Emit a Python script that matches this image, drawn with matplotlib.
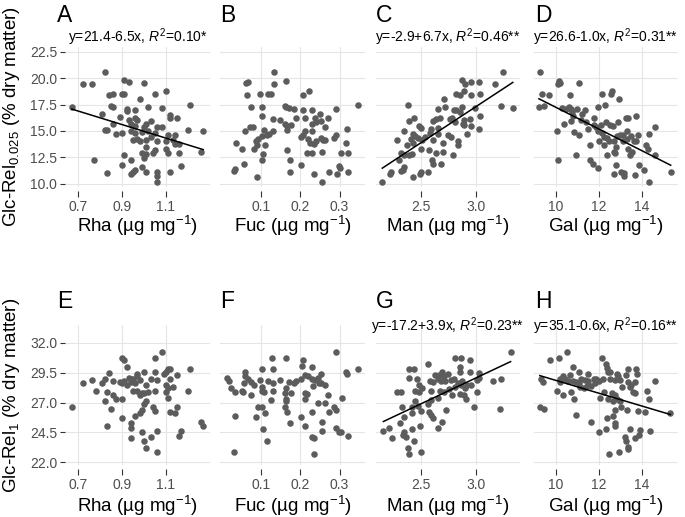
import numpy as np
import matplotlib
matplotlib.use("Agg")
import matplotlib.pyplot as plt

plt.rcParams['font.family'] = 'Liberation Sans'
plt.rcParams['mathtext.fontset'] = 'custom'
plt.rcParams['mathtext.rm'] = 'Liberation Sans'
plt.rcParams['mathtext.it'] = 'Liberation Sans:italic'

# Data (top row: Glc-Rel 0.025, bottom row: Glc-Rel 1)
rha_a = [0.82, 0.72, 0.76, 0.91, 0.93, 1.00, 1.10, 0.84, 0.86, 0.90, 0.91, 1.05, 0.98, 0.85, 0.86, 1.21, 0.67, 1.02,
         1.08, 0.92, 0.92, 0.96, 0.81, 0.89, 1.12, 1.12, 1.15, 0.93, 0.96, 0.97, 1.03, 1.01, 0.86, 0.94, 0.96, 1.00,
         1.06, 1.08, 0.82, 0.83, 0.87, 0.90, 0.94, 0.96, 0.99, 1.02, 1.05, 1.11, 1.14, 1.20, 1.27, 0.95, 0.97, 0.98,
         1.01, 1.03, 1.06, 1.10, 1.13, 1.14, 1.16, 1.10, 1.05, 1.04, 0.99, 1.01, 1.11, 1.16, 1.26, 0.91, 0.77, 0.94,
         0.90, 0.99, 0.96, 0.95, 0.94, 0.83, 1.01, 1.06, 1.06, 1.06, 1.12, 1.17, 1.00, 1.01]
glc025_a = [20.6, 19.4, 19.4, 19.8, 19.6, 19.5, 18.8, 18.4, 18.5, 18.5, 18.5, 18.5, 18.0, 17.4, 17.3, 17.5, 17.3, 17.3,
            17.2, 17.1, 16.9, 17.0, 16.6, 16.3, 16.5, 16.2, 16.2, 16.0, 16.2, 16.0, 15.9, 15.7, 15.7, 15.7, 15.5, 15.4,
            15.4, 15.4, 15.1, 15.1, 14.7, 14.8, 15.0, 14.8, 14.9, 15.0, 14.8, 14.6, 14.6, 15.1, 15.0, 14.1, 14.2, 14.0,
            14.1, 14.4, 14.0, 14.0, 14.1, 13.8, 13.8, 13.3, 13.2, 12.9, 12.9, 12.8, 12.9, 12.9, 13.0, 12.7, 12.2, 12.2,
            11.8, 11.6, 11.3, 11.1, 10.9, 11.0, 11.1, 11.1, 10.7, 10.2, 11.1, 11.7, 12.4, 13.5]

fuc_b = [0.133, 0.061, 0.066, 0.163, 0.132, 0.063, 0.096, 0.118, 0.126, 0.208, 0.223, 0.074, 0.103, 0.160, 0.163,
         0.171, 0.183, 0.206, 0.231, 0.290, 0.347, 0.101, 0.189, 0.211, 0.237, 0.249, 0.271, 0.129, 0.149, 0.160,
         0.167, 0.177, 0.229, 0.240, 0.252, 0.263, 0.071, 0.079, 0.059, 0.108, 0.131, 0.166, 0.212, 0.230, 0.318,
         0.120, 0.114, 0.101, 0.093, 0.088, 0.206, 0.202, 0.220, 0.224, 0.234, 0.241, 0.252, 0.258, 0.264, 0.285,
         0.291, 0.317, 0.035, 0.111, 0.090, 0.051, 0.082, 0.165, 0.216, 0.231, 0.255, 0.305, 0.321, 0.105, 0.102,
         0.174, 0.055, 0.201, 0.034, 0.030, 0.090, 0.174, 0.234, 0.272, 0.294, 0.299, 0.302, 0.321, 0.256]
glc025_b = [20.6, 19.5, 19.6, 19.7, 19.4, 18.4, 18.5, 18.5, 18.5, 18.4, 18.8, 17.3, 17.3, 17.4, 17.3, 17.2, 17.1, 17.0,
            17.0, 17.1, 17.5, 16.4, 16.2, 16.2, 16.2, 16.6, 16.2, 16.1, 16.0, 15.7, 15.5, 15.6, 15.7, 15.8, 15.9, 15.4,
            15.4, 15.4, 15.0, 15.1, 15.0, 15.1, 15.0, 15.0, 15.2, 14.7, 14.6, 14.5, 14.2, 14.0, 14.6, 14.4, 14.2, 13.9,
            13.8, 14.0, 14.3, 14.1, 14.1, 14.3, 14.6, 13.9, 13.9, 13.7, 13.7, 13.3, 13.3, 13.2, 12.9, 12.9, 13.0, 12.9,
            12.9, 12.8, 12.2, 12.2, 11.9, 11.8, 11.4, 11.2, 10.6, 11.1, 10.9, 11.1, 10.9, 11.7, 11.5, 11.1, 10.2]

man_c = [3.24, 2.87, 2.90, 2.95, 3.02, 3.17, 2.82, 2.85, 2.89, 2.95, 3.03, 2.71, 2.38, 2.65, 2.72, 2.80, 2.82, 2.87,
         2.85, 3.22, 3.33, 2.99, 3.03, 2.44, 2.39, 2.61, 2.64, 2.67, 2.78, 2.76, 2.89, 2.94, 2.81, 2.88, 2.89, 2.95,
         2.48, 2.50, 2.35, 2.59, 2.65, 2.58, 2.43, 2.45, 2.47, 2.41, 2.28, 2.37, 2.43, 2.51, 2.54, 2.61, 2.65, 2.74,
         2.77, 2.92, 3.02, 2.83, 2.83, 2.70, 2.57, 2.64, 2.70, 2.79, 2.50, 2.32, 2.35, 2.39, 2.42, 2.30, 2.60, 2.61,
         2.68, 2.35, 2.34, 2.32, 2.23, 2.22, 2.50, 2.56, 2.43, 2.15, 2.49]
glc025_c = [20.6, 19.8, 19.4, 19.6, 19.6, 19.4, 18.5, 18.4, 18.8, 18.4, 18.5, 18.0, 17.5, 17.1, 17.3, 17.0, 17.0, 17.3,
            16.8, 17.4, 17.2, 17.2, 16.4, 16.2, 15.9, 15.9, 16.1, 16.2, 16.2, 16.1, 16.0, 16.1, 15.8, 15.7, 15.6, 15.5,
            15.5, 15.3, 15.0, 15.2, 15.3, 14.8, 14.7, 14.5, 14.3, 14.2, 14.1, 13.7, 13.9, 14.1, 14.4, 14.1, 14.7, 14.6,
            14.4, 14.7, 15.2, 14.0, 13.7, 13.9, 13.2, 12.9, 13.0, 12.7, 13.3, 12.9, 12.7, 12.7, 12.8, 12.2, 12.2, 11.9,
            11.9, 11.6, 11.3, 11.2, 11.1, 10.9, 11.1, 11.1, 10.6, 10.2, 10.9]

gal_d = [9.27, 10.14, 10.22, 10.11, 11.09, 9.36, 9.71, 10.65, 12.16, 12.60, 12.59, 12.93, 9.22, 9.46, 10.28, 10.50,
         10.62, 10.70, 10.98, 11.38, 11.97, 12.31, 10.74, 10.81, 11.24, 11.77, 12.65, 12.51, 12.90, 13.26, 13.38,
         13.74, 14.60, 10.39, 10.71, 11.16, 11.41, 11.80, 11.89, 10.05, 10.84, 11.07, 11.52, 11.97, 12.17, 12.26,
         12.37, 12.50, 12.71, 12.85, 12.99, 13.15, 13.33, 13.49, 13.33, 13.64, 13.83, 14.34, 11.60, 12.03, 12.25,
         12.81, 13.15, 13.36, 13.55, 13.75, 14.20, 14.28, 10.93, 10.11, 11.61, 11.75, 11.98, 12.37, 12.71, 12.78,
         13.44, 12.82, 13.88, 14.09, 12.70, 13.05, 13.17, 13.20, 13.67, 14.36, 15.35, 14.60, 12.34, 12.12]
glc025_d = [20.6, 19.7, 19.5, 19.4, 19.5, 18.5, 18.4, 18.4, 18.5, 18.8, 18.5, 18.0, 17.3, 17.4, 17.2, 17.1, 17.3, 17.1,
            17.1, 17.0, 17.3, 17.5, 16.8, 16.4, 16.6, 16.2, 15.5, 15.6, 15.8, 16.2, 16.2, 16.4, 15.4, 15.7, 15.9, 16.0,
            15.8, 15.6, 15.4, 15.0, 14.9, 14.6, 15.2, 15.0, 14.8, 14.4, 14.3, 14.0, 14.0, 14.5, 14.6, 14.6, 15.0, 14.5,
            14.2, 14.0, 14.6, 14.7, 13.7, 14.0, 13.7, 13.5, 14.0, 13.3, 13.0, 14.0, 13.7, 13.3, 12.7, 12.2, 12.2, 11.9,
            11.5, 12.7, 13.0, 12.9, 12.7, 11.8, 11.8, 11.3, 10.9, 11.1, 11.0, 10.7, 10.8, 10.2, 11.1, 12.7, 15.8, 15.6]

rha_e = [1.08, 0.90, 0.91, 1.05, 0.92, 0.84, 0.97, 1.00, 1.05, 1.10, 1.11, 1.12, 1.21, 1.15, 1.09, 0.72, 0.76, 0.82,
         0.81, 0.86, 0.89, 0.90, 0.91, 0.93, 0.94, 0.95, 0.97, 0.98, 0.92, 0.94, 0.96, 1.01, 1.03, 1.06, 1.10, 1.12,
         1.13, 1.11, 0.78, 0.83, 0.86, 0.87, 0.90, 0.95, 0.97, 0.99, 1.00, 1.02, 1.05, 1.10, 1.11, 1.20, 0.82, 0.85,
         0.98, 1.00, 1.01, 0.99, 0.98, 0.96, 1.04, 1.05, 1.12, 1.14, 1.15, 0.90, 0.67, 0.83, 0.94, 0.94, 0.99, 1.00,
         1.03, 1.06, 0.94, 1.01, 1.06, 1.17, 1.16, 1.26, 1.27]
glc1_e = [31.2, 30.7, 30.6, 30.7, 30.0, 29.5, 29.4, 29.6, 29.6, 29.6, 29.8, 29.8, 29.8, 29.3, 29.4, 28.6, 28.9, 29.0,
          28.6, 28.8, 28.7, 28.6, 28.8, 29.1, 29.0, 29.0, 29.2, 28.9, 28.5, 28.7, 28.6, 28.5, 29.0, 28.9, 28.5, 29.0,
          28.3, 28.2, 28.0, 27.9, 27.6, 27.3, 27.3, 28.0, 28.0, 27.8, 27.8, 27.9, 28.0, 27.9, 27.4, 28.0, 27.1, 26.5,
          27.6, 26.9, 27.1, 26.4, 26.1, 25.9, 26.6, 26.3, 26.2, 26.1, 26.6, 25.7, 26.6, 25.0, 25.3, 24.9, 24.5, 23.8,
          24.1, 24.6, 24.0, 23.2, 22.9, 24.6, 24.2, 25.4, 25.0]

fuc_f = [0.290, 0.127, 0.163, 0.207, 0.203, 0.229, 0.101, 0.129, 0.346, 0.317, 0.318, 0.060, 0.012, 0.017, 0.058,
         0.067, 0.075, 0.057, 0.082, 0.096, 0.103, 0.118, 0.131, 0.149, 0.171, 0.184, 0.189, 0.201, 0.211, 0.220,
         0.231, 0.237, 0.246, 0.253, 0.252, 0.023, 0.034, 0.050, 0.053, 0.074, 0.101, 0.108, 0.131, 0.164, 0.160,
         0.175, 0.163, 0.163, 0.213, 0.217, 0.212, 0.233, 0.247, 0.263, 0.271, 0.306, 0.125, 0.091, 0.103, 0.111,
         0.087, 0.034, 0.160, 0.165, 0.174, 0.201, 0.231, 0.246, 0.263, 0.273, 0.285, 0.290, 0.211, 0.255, 0.255,
         0.230, 0.234, 0.292, 0.298, 0.303, 0.322, 0.104, 0.114, 0.031, 0.234]
glc1_f = [31.2, 30.7, 30.7, 30.6, 30.1, 30.0, 29.8, 29.8, 29.8, 29.6, 29.4, 29.6, 29.1, 28.8, 29.2, 29.0, 28.7, 28.6,
          28.5, 28.9, 28.3, 28.8, 28.6, 28.9, 28.7, 28.6, 28.8, 29.0, 29.3, 29.2, 29.0, 28.9, 29.1, 29.4, 28.6, 28.2,
          27.9, 28.0, 27.9, 27.6, 28.0, 27.9, 28.0, 28.2, 27.8, 27.8, 27.3, 27.1, 27.8, 27.7, 27.3, 28.4, 28.6, 28.5,
          27.6, 27.4, 27.2, 26.6, 26.6, 26.1, 25.8, 25.9, 26.6, 26.2, 25.3, 25.8, 26.2, 27.0, 27.0, 26.2, 26.6, 26.4,
          25.0, 25.4, 24.6, 24.1, 24.0, 24.9, 24.5, 24.5, 24.2, 24.8, 23.8, 22.9, 22.7]

man_g = [3.31, 2.81, 2.86, 2.94, 2.56, 2.85, 2.39, 2.44, 2.69, 2.74, 2.85, 2.94, 3.02, 2.63, 2.66, 2.71, 2.39, 2.46,
         2.58, 2.61, 2.65, 2.68, 2.72, 2.77, 2.80, 2.83, 2.87, 2.92, 3.01, 3.02, 3.15, 3.22, 2.48, 2.51, 2.45, 2.28,
         2.32, 2.48, 2.59, 2.67, 2.71, 2.75, 2.81, 2.86, 2.90, 2.95, 3.01, 2.78, 2.85, 2.89, 2.91, 2.65, 2.59, 2.56,
         2.45, 2.42, 2.47, 2.33, 2.98, 3.21, 2.73, 2.57, 2.59, 2.61, 2.50, 2.35, 2.31, 2.42, 2.49, 2.69, 2.65, 2.16,
         2.21, 2.24, 2.35, 2.34, 2.36, 2.42, 2.44, 2.38, 2.39, 2.50]
glc1_g = [31.2, 30.7, 30.7, 30.6, 30.2, 30.0, 29.8, 29.8, 29.6, 29.4, 29.6, 29.6, 29.5, 29.3, 29.3, 29.2, 29.1, 29.0,
          28.8, 28.7, 29.0, 28.8, 28.8, 28.9, 29.0, 28.6, 28.8, 28.5, 28.9, 29.1, 28.8, 29.0, 28.5, 28.2, 28.0, 27.9,
          27.9, 27.9, 28.0, 28.0, 27.9, 28.1, 28.3, 28.5, 28.2, 28.5, 27.9, 27.6, 27.7, 27.6, 27.3, 27.4, 27.2, 26.9,
          27.1, 26.6, 26.7, 26.6, 26.6, 26.5, 26.4, 26.2, 26.0, 25.7, 26.3, 25.8, 25.3, 26.1, 25.0, 25.4, 24.9, 24.6,
          24.9, 24.0, 24.5, 24.3, 24.1, 24.8, 23.8, 23.2, 22.7, 22.9]

gal_h = [10.53, 9.72, 10.16, 12.16, 12.36, 12.39, 13.35, 13.75, 10.79, 11.10, 12.43, 12.53, 12.87, 13.29, 13.80,
         11.50, 10.65, 9.33, 9.40, 10.22, 10.33, 10.42, 10.57, 10.81, 10.93, 11.07, 11.19, 11.35, 11.50, 11.77,
         11.89, 12.00, 12.19, 12.51, 12.78, 12.90, 12.99, 13.36, 13.67, 13.49, 14.60, 10.05, 10.20, 10.71, 11.12,
         11.32, 11.44, 11.66, 11.81, 12.25, 12.62, 12.74, 13.10, 13.44, 13.60, 13.71, 14.26, 10.36, 10.84, 12.08,
         12.85, 12.98, 13.05, 13.30, 13.83, 14.17, 14.33, 9.26, 9.46, 10.96, 11.63, 12.40, 12.65, 12.78, 12.74,
         12.00, 12.34, 12.78, 13.22, 13.27, 13.36, 13.67, 13.88, 13.94, 14.39, 15.33, 12.47, 12.95, 13.35, 13.47,
         12.68, 12.43]
glc1_h = [31.2, 30.6, 30.7, 30.7, 30.2, 29.9, 29.8, 29.8, 30.0, 29.6, 29.6, 29.6, 29.4, 29.3, 29.4, 29.4, 29.3, 29.0,
          28.7, 29.0, 29.2, 29.0, 28.8, 28.8, 28.7, 28.6, 29.0, 28.9, 28.8, 29.0, 29.0, 28.8, 29.0, 29.0, 28.9, 29.2,
          28.9, 28.7, 28.7, 28.5, 28.8, 28.0, 28.7, 27.9, 28.3, 28.2, 28.4, 28.4, 28.6, 27.9, 27.8, 27.6, 28.3, 28.3,
          27.9, 27.8, 28.0, 27.6, 27.3, 27.4, 27.3, 27.1, 26.6, 26.4, 26.3, 26.2, 27.3, 26.6, 26.5, 26.0, 25.4, 25.7,
          25.9, 26.4, 25.3, 24.5, 24.8, 25.0, 24.1, 23.8, 23.3, 24.0, 24.3, 24.7, 24.6, 26.1, 22.7, 22.9, 23.1, 24.8,
          27.1, 27.3]

letters = ["A", "B", "C", "D", "E", "F", "G", "H"]
xlabels = ["Rha", "Fuc", "Man", "Gal"]
xtick_vals = [[0.7, 0.9, 1.1], [0.1, 0.2, 0.3], [2.5, 3.0], [10, 12, 14]]
xtick_text = [["0.7", "0.9", "1.1"], ["0.1", "0.2", "0.3"], ["2.5", "3.0"], ["10", "12", "14"]]
ytick_vals = [[10.0, 12.5, 15.0, 17.5, 20.0, 22.5], [22.0, 24.5, 27.0, 29.5, 32.0]]
equations = ["y=21.4-6.5x, $R^2$=0.10*", None, "y=-2.9+6.7x, $R^2$=0.46**", "y=26.6-1.0x, $R^2$=0.31**",
             None, None, "y=-17.2+3.9x, $R^2$=0.23**", "y=35.1-0.6x, $R^2$=0.16**"]
ylabels = ["Glc-Rel$_{0.025}$ (% dry matter)", "Glc-Rel$_{1}$ (% dry matter)"]

xs_all = [rha_a, fuc_b, man_c, gal_d, rha_e, fuc_f, man_g, gal_h]
ys_all = [glc025_a, glc025_b, glc025_c, glc025_d, glc1_e, glc1_f, glc1_g, glc1_h]

# layout in pixels
W, H = 685, 517
col_px = [(65, 210), (220, 365), (376, 520), (534, 678)]
row_px = [(47, 187), (325, 465)]
xlims = [(0.639, 1.301), (-0.005, 0.365), (2.093, 3.395), (8.99, 15.69)]
ylims = [(9.69, 22.95), (21.77, 33.5)]
letter_x = [57, 220, 376, 535]
letter_base = [22, 308]
eq_base = [42, 331]
xlabel_base = [232, 512]
tick_pad = [2, 2]

fig = plt.figure(figsize=(W / 100, H / 100), dpi=100)

for i in range(8):
    row, col = divmod(i, 4)
    l, r = col_px[col]
    t, b = row_px[row]
    ax = fig.add_axes([l / W, 1 - b / H, (r - l) / W, (b - t) / H])
    x = np.array(xs_all[i])
    y = np.array(ys_all[i])
    ax.scatter(x, y, s=22, color='#5c5c5c', linewidths=0, zorder=3)
    if equations[i] is not None:
        fit = np.polyfit(x, y, 1)
        xline = np.array([x.min(), x.max()])
        ax.plot(xline, np.polyval(fit, xline), color='black', lw=1.1, zorder=4)
        fig.text((l + r) / 2 / W, 1 - eq_base[row] / H, equations[i], ha='center', va='baseline', fontsize=10)

    ax.set_xlim(xlims[col])
    ax.set_ylim(ylims[row])
    ax.set_xticks(xtick_vals[col])
    ax.set_xticklabels(xtick_text[col])
    ax.set_yticks(ytick_vals[row])
    ax.set_yticklabels(["%.1f" % v for v in ytick_vals[row]])
    ax.grid(True, color='#e5e5e5', lw=0.8)
    ax.set_axisbelow(True)
    for s in ax.spines.values():
        s.set_visible(False)
    ax.spines['bottom'].set_position(('outward', 3))
    ax.tick_params(axis='x', length=4.5, width=0.8, color='#333333', labelsize=10, labelcolor='#4d4d4d',
                   pad=tick_pad[row])
    if col == 0:
        ax.tick_params(axis='y', length=3.5, width=0.8, color='#333333', labelsize=10, labelcolor='#4d4d4d', pad=2)
    else:
        ax.tick_params(axis='y', left=False, labelleft=False)

    fig.text((l + r) / 2 / W, 1 - xlabel_base[row] / H, xlabels[col] + " (µg mg$^{-1}$)",
             ha='center', va='baseline', fontsize=13.5)
    fig.text(letter_x[col] / W, 1 - letter_base[row] / H, letters[i], ha='left', va='baseline', fontsize=16.5)

for row in range(2):
    t, b = row_px[row]
    fig.text(12 / W, 1 - (t + b) / 2 / H, ylabels[row], rotation=90, ha='center', va='center', fontsize=13.5)

fig.savefig("out.png", dpi=100)
